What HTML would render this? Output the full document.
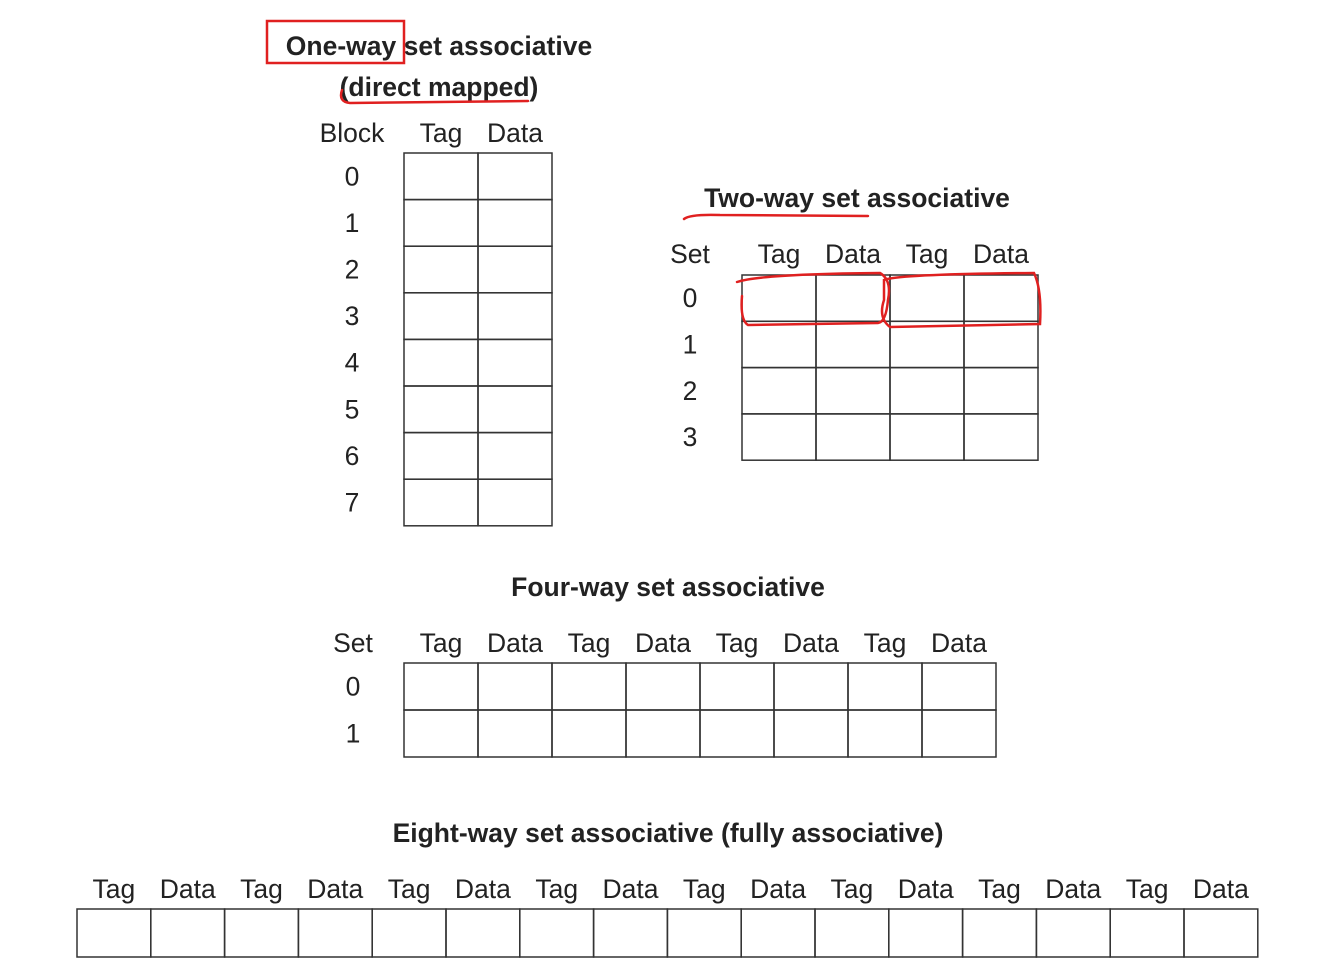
<!DOCTYPE html>
<html><head><meta charset="utf-8">
<style>
html,body{margin:0;padding:0;background:#fff;}
svg{display:block;}
text{font-family:"Liberation Sans",Arial,sans-serif;fill:#222;}
.t{font-size:26.5px;}
.b{font-size:26.5px;font-weight:bold;}
</style></head>
<body>
<svg id="s" width="1318" height="972" viewBox="0 0 1318 972" xmlns="http://www.w3.org/2000/svg">
</svg>
<script>
const NS='http://www.w3.org/2000/svg';
const svg=document.getElementById('s');
const oneWayRows=['0','1','2','3','4','5','6','7'];
const twoWayRows=['0','1','2','3'];
const fourWayRows=['0','1'];
const twoWayWays=2, fourWayWays=4, eightWayWays=8;
const titles=['One-way set associative','(direct mapped)','Two-way set associative','Four-way set associative','Eight-way set associative (fully associative)'];

function el(tag,attrs,parent){const e=document.createElementNS(NS,tag);for(const k in attrs)e.setAttribute(k,attrs[k]);(parent||svg).appendChild(e);return e;}
function txt(s,x,y,cls,anchor,name){const t=el('text',{x:x,y:y,class:cls,'text-anchor':anchor||'middle'});t.textContent=s;


return t;}

function table(name,x0,y0,colW,rowH,ways,rows,rowLabel,labelX,headY){
  const g=el('g',{});
  
  
  const cols=ways*2;
  if(rowLabel) txt(rowLabel,labelX,headY,'t','middle',name+'-row-header');
  for(let c=0;c<cols;c++){
    txt(c%2===0?'Tag':'Data',x0+colW*(c+0.5),headY,'t','middle',name+'-col-header');
  }
  const nr=rows?rows.length:1;
  for(let r=0;r<nr;r++){
    if(rows) txt(rows[r],labelX,y0+rowH*(r+0.5)+9,'t','middle',name+'-row-label');
    for(let c=0;c<cols;c++){
      const cell=el('rect',{x:x0+colW*c,y:y0+rowH*r,width:colW,height:rowH,fill:'none',stroke:'#333','stroke-width':1.5},g);
      
      
    }
  }
}

txt(titles[0],439,55,'b','middle','one-way-title');
txt(titles[1],439,96,'b','middle','direct-mapped-subtitle');
table('one-way-table',404,153,74,46.6,1,oneWayRows,'Block',352,142);
txt(titles[2],857,207,'b','middle','two-way-title');
table('two-way-table',742,275,74,46.3,twoWayWays,twoWayRows,'Set',690,263);
txt(titles[3],668,596,'b','middle','four-way-title');
table('four-way-table',404,663,74,47,fourWayWays,fourWayRows,'Set',353,652);
txt(titles[4],668,842,'b','middle','eight-way-title');
table('eight-way-table',77,909,73.8,48,eightWayWays,null,null,0,898);

const red={fill:'none',stroke:'#e02020','stroke-width':2.5,'stroke-linecap':'round'};
let a=el('rect',Object.assign({x:267,y:21,width:137,height:42},red));


a=el('path',Object.assign({d:'M342 90 Q338 102 350 103 L528 101'},red));


a=el('path',Object.assign({d:'M684 219 Q690 214 720 215 L868 216'},red));


a=el('path',Object.assign({d:'M737 282 Q760 274 880 273 Q892 280 888 300 Q886 322 878 323 L748 325 Q740 320 742 296'},red));


a=el('path',Object.assign({d:'M884 280 Q900 274 1034 273 Q1042 290 1040 324 L890 327 Q878 318 884 300 Z'},red));


</script>
</body></html>
